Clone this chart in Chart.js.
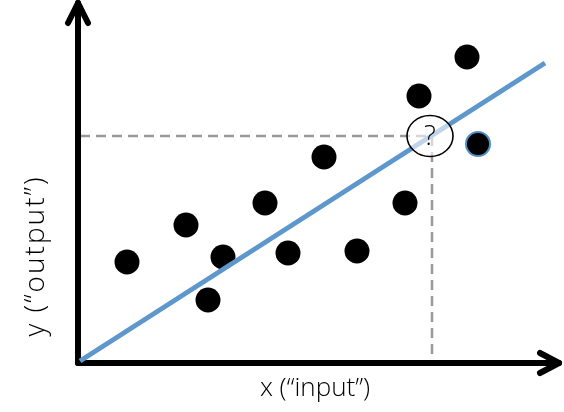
<!DOCTYPE html>
<html>
<head>
<meta charset="utf-8">
<script src="https://cdn.jsdelivr.net/npm/chart.js@4"></script>
<style>
  html, body { margin: 0; padding: 0; background: #fff; }
  #wrap { width: 564px; height: 412px; }
</style>
</head>
<body>
<div id="wrap"><canvas id="chart" width="564" height="412"></canvas></div>
<script>
// training samples (x, y) in diagram units, origin at the axes corner
const sampleX = [49, 108, 130, 145, 187, 210, 246, 279, 327, 341, 389];
const sampleY = [101, 138, 63, 106, 160, 110, 206, 112, 160, 267, 306];
// the one sample drawn with a blue rim
const extraX = [400];
const extraY = [219];
// fitted line end points
const fitX = [2, 467];
const fitY = [2, 300];
// the queried input and its predicted output
const queryX = [354];
const queryY = [227];
// axes with arrow heads
const yAxisX = [0, 0];
const yAxisY = [0, 360];
const yHeadX = [-10, 0, 10];
const yHeadY = [340, 360, 340];
const xAxisX = [0, 481];
const xAxisY = [0, 0];
const xHeadX = [462, 481, 462];
const xHeadY = [10, 0, -10];

const labelX = 'x (“input”)';
const labelY = 'y (“output”)';
const FONT = "'Open Sans', 'Noto Sans', sans-serif";

const zip = (xs, ys) => xs.map((x, i) => ({ x, y: ys[i] }));

const guideH = [{ x: 2, y: queryY[0] }, { x: queryX[0], y: queryY[0] }];
const guideV = [{ x: queryX[0], y: queryY[0] }, { x: queryX[0], y: 0 }];

// ellipse round the prediction, axis labels
const annotate = {
    id: 'annotate',
    afterDatasetsDraw(chart) {
        const ctx = chart.ctx;
        const sx = chart.scales.x, sy = chart.scales.y;
        const cx = sx.getPixelForValue(queryX[0]) - 2;
        const cy = sy.getPixelForValue(queryY[0]);
        ctx.save();
        ctx.beginPath();
        ctx.ellipse(cx, cy, 23, 20.5, 0, 0, Math.PI * 2);
        ctx.fillStyle = 'rgba(255,255,255,0.6)';
        ctx.fill();
        ctx.lineWidth = 1.6;
        ctx.strokeStyle = '#000';
        ctx.stroke();
        ctx.fillStyle = '#000';
        ctx.textAlign = 'center';
        ctx.textBaseline = 'middle';
        ctx.font = '300 28px ' + FONT;
        ctx.fillText('?', cx, cy + 1);
        ctx.restore();
    },
    afterDraw(chart) {
        const ctx = chart.ctx;
        const area = chart.chartArea;
        ctx.save();
        ctx.fillStyle = '#000';
        ctx.textAlign = 'center';
        ctx.textBaseline = 'middle';
        ctx.font = '300 26px ' + FONT;
        ctx.fillText(labelX, 315, area.bottom + 26);
        ctx.translate(36, 256);
        ctx.rotate(-Math.PI / 2);
        ctx.font = '300 28px ' + FONT;
        ctx.letterSpacing = '2px';
        ctx.fillText(labelY, 0, 0);
        ctx.restore();
    }
};

const axisStyle = {
    type: 'line',
    showLine: true,
    borderColor: '#000',
    borderWidth: 6,
    borderCapStyle: 'round',
    borderJoinStyle: 'round',
    pointRadius: 0,
    fill: false,
    clip: false
};

new Chart(document.getElementById('chart'), {
    type: 'scatter',
    data: {
        datasets: [
            {
                data: zip(sampleX, sampleY),
                backgroundColor: '#000',
                borderColor: '#000',
                pointRadius: 12.5,
                borderWidth: 0,
                clip: false,
                order: 2
            },
            {
                data: zip(extraX, extraY),
                backgroundColor: '#000',
                borderColor: '#4f8cc6',
                borderWidth: 2,
                pointRadius: 12,
                clip: false,
                order: 2
            },
            {
                type: 'line',
                data: zip(fitX, fitY),
                showLine: true,
                borderColor: '#5d97cc',
                borderWidth: 5,
                pointRadius: 0,
                clip: false,
                order: 1
            },
            Object.assign({ data: zip(yAxisX, yAxisY), order: 3 }, axisStyle),
            Object.assign({ data: zip(yHeadX, yHeadY), order: 3 }, axisStyle),
            Object.assign({ data: zip(xAxisX, xAxisY), order: 3 }, axisStyle),
            Object.assign({ data: zip(xHeadX, xHeadY), order: 3 }, axisStyle),
            {
                type: 'line',
                data: guideH,
                showLine: true,
                borderColor: '#999',
                borderWidth: 2.5,
                borderDash: [10, 6],
                pointRadius: 0,
                clip: false,
                order: 4
            },
            {
                type: 'line',
                data: guideV,
                showLine: true,
                borderColor: '#999',
                borderWidth: 2.5,
                borderDash: [10, 6],
                pointRadius: 0,
                clip: false,
                order: 4
            }
        ]
    },
    options: {
        responsive: false,
        animation: false,
        layout: { autoPadding: false, padding: { left: 78, right: 5, top: 3, bottom: 49 } },
        plugins: {
            legend: { display: false },
            tooltip: { enabled: false }
        },
        scales: {
            x: { type: 'linear', min: 0, max: 481, display: false },
            y: { type: 'linear', min: 0, max: 360, display: false }
        },
        elements: { line: { tension: 0 } }
    },
    plugins: [annotate]
});
</script>
</body>
</html>
